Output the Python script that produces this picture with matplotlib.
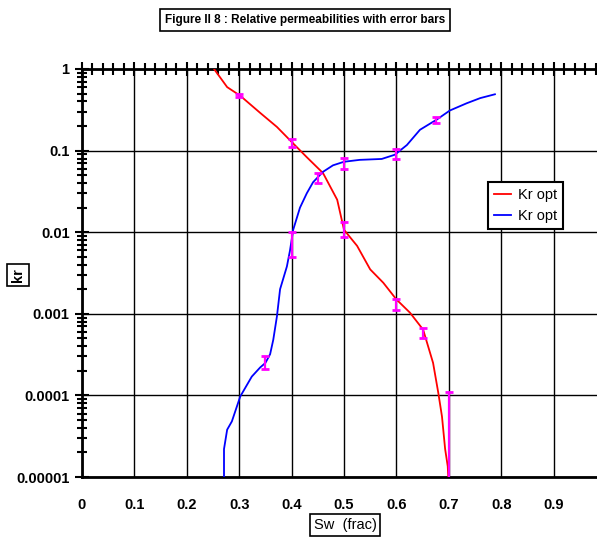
import numpy as np
import matplotlib
matplotlib.use("Agg")
from matplotlib import pyplot as plt
from matplotlib.ticker import FixedLocator, LogLocator, NullFormatter, MultipleLocator

plt.rcParams['font.family'] = ['Liberation Sans', 'DejaVu Sans']

# oil relative permeability (red)
sw_o = [0.252, 0.277, 0.302, 0.34, 0.372, 0.40, 0.429, 0.46, 0.487, 0.50, 0.525,
        0.55, 0.575, 0.60, 0.626, 0.651, 0.67, 0.68, 0.687, 0.693, 0.698, 0.699]
kr_o = [1.0, 0.6, 0.47, 0.29, 0.195, 0.128, 0.083, 0.053, 0.025, 0.0107, 0.0068,
        0.0035, 0.0024, 0.0015, 0.00103, 0.00064, 0.00025, 0.000107, 5.5e-5, 2.2e-5, 1.35e-5, 1e-5]

# water relative permeability (blue)
sw_w = [0.271, 0.271, 0.277, 0.286, 0.302, 0.324, 0.34, 0.35, 0.359, 0.365, 0.372,
        0.378, 0.391, 0.397, 0.403, 0.416, 0.429, 0.441, 0.46, 0.479, 0.50, 0.53,
        0.572, 0.597, 0.62, 0.645, 0.677, 0.702, 0.734, 0.76, 0.788]
kr_w = [1e-5, 2.2e-5, 3.8e-5, 4.8e-5, 9.7e-5, 1.7e-4, 2.2e-4, 2.5e-4, 3.2e-4, 4.8e-4, 9.3e-4,
        0.002, 0.0038, 0.006, 0.0107, 0.02, 0.03, 0.041, 0.055, 0.066, 0.073, 0.077,
        0.079, 0.089, 0.117, 0.18, 0.24, 0.31, 0.38, 0.44, 0.49]

# error bars (low, high)
err_sw = [0.30, 0.40, 0.50, 0.60, 0.65, 0.70, 0.35, 0.40, 0.45, 0.50, 0.60, 0.675]
err_lo = [0.45, 0.11, 0.0087, 0.0011, 0.00051, 9e-6, 2.1e-4, 0.0049, 0.040, 0.060, 0.080, 0.22]
err_hi = [0.49, 0.14, 0.0134, 0.0015, 0.00067, 1.1e-4, 3.0e-4, 0.010, 0.053, 0.082, 0.105, 0.26]

ytick_vals = [1e-5, 1e-4, 1e-3, 1e-2, 1e-1, 1]
ytick_labels = ["0.00001", "0.0001", "0.001", "0.01", "0.1", "1"]
xtick_vals = [0, 0.1, 0.2, 0.3, 0.4, 0.5, 0.6, 0.7, 0.8, 0.9]

fig = plt.figure(figsize=(5.97, 5.42), dpi=100)
ax = fig.add_axes([82 / 597, 1 - 477 / 542, 515 / 597, 408 / 542])

ax.set_yscale('log')
ax.set_xlim(0, 515 / 524)
ax.set_ylim(1e-5, 1)

ax.grid(True, which='major', color='black', linewidth=1.0)

ax.plot(sw_o, kr_o, color='red', linewidth=1.3, label='Kr opt', zorder=3)
ax.plot(sw_w, kr_w, color='blue', linewidth=1.3, label='Kr opt', zorder=3)

mid = [np.sqrt(a * b) for a, b in zip(err_lo, err_hi)]
yerr = [[m - a for m, a in zip(mid, err_lo)], [b - m for m, b in zip(mid, err_hi)]]
ax.errorbar(err_sw, mid, yerr=yerr, fmt='none', ecolor='#ff00ff', elinewidth=1.6,
            capsize=3, capthick=2, zorder=4)

ax.xaxis.set_major_locator(FixedLocator(xtick_vals))
ax.set_xticklabels([f"{v:g}" for v in xtick_vals], fontsize=10.5, fontweight='bold')
ax.yaxis.set_major_locator(FixedLocator(ytick_vals))
ax.set_yticklabels(ytick_labels, fontsize=10.5, fontweight='bold')
ax.yaxis.set_minor_locator(LogLocator(base=10, subs=np.arange(2, 10), numticks=20))
ax.yaxis.set_minor_formatter(NullFormatter())
ax.xaxis.set_minor_locator(MultipleLocator(0.02))

ax.tick_params(axis='x', which='both', top=True, bottom=False, direction='inout',
               labeltop=False, labelbottom=True, pad=10)
ax.tick_params(axis='x', which='major', length=10, width=1.5)
ax.tick_params(axis='x', which='minor', length=8, width=1.5)
ax.tick_params(axis='y', which='major', direction='inout', length=10, width=1.5, pad=4)
ax.tick_params(axis='y', which='minor', direction='inout', length=7, width=1.5)

for s in ['left', 'top', 'bottom']:
    ax.spines[s].set_linewidth(2)
ax.spines['right'].set_visible(False)

leg = ax.legend(loc='upper left', bbox_to_anchor=(0.788, 0.723), fontsize=10.5,
                fancybox=False, edgecolor='black', framealpha=1, handlelength=1.2,
                borderaxespad=0, handletextpad=0.5, borderpad=0.4)
leg.get_frame().set_linewidth(1.5)

box = dict(boxstyle='square,pad=0.25', facecolor='white', edgecolor='black', linewidth=1.2)
title_box = dict(boxstyle='square,pad=0.45', facecolor='white', edgecolor='black', linewidth=1.2)
fig.text(305 / 597, 1 - 20 / 542, "Figure II 8 : Relative permeabilities with error bars",
         ha='center', va='center', fontsize=8.5, fontweight='bold', bbox=title_box)
fig.text(18 / 597, 1 - 275 / 542, "kr", rotation=90, ha='center', va='center',
         fontsize=10.5, fontweight='bold', bbox=box)
fig.text(345 / 597, 1 - 525 / 542, "Sw  (frac)", ha='center', va='center',
         fontsize=10.5, bbox=box)

fig.savefig('out.png', dpi=100)
